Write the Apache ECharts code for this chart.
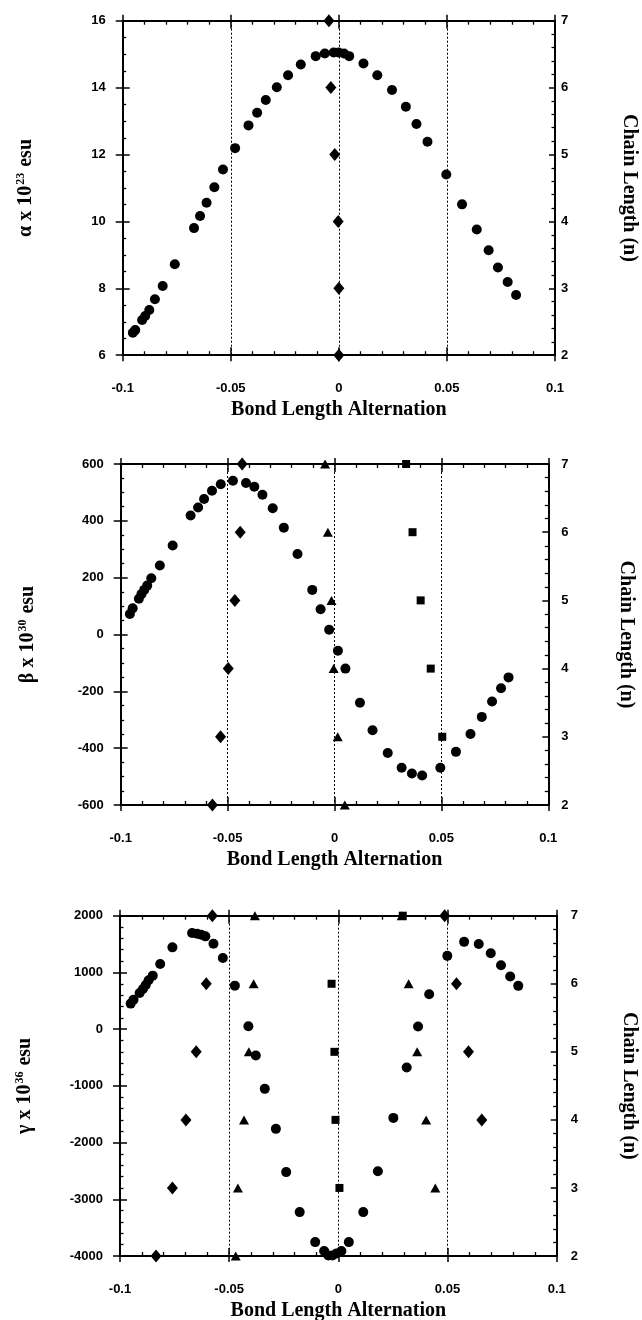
<!DOCTYPE html>
<html>
<head>
<meta charset="utf-8">
<script src="https://cdn.jsdelivr.net/npm/echarts@6/dist/echarts.min.js"></script>
<style>
  html, body { margin: 0; padding: 0; background: #fff; }
  #chart { width: 642px; height: 1320px; }
</style>
</head>
<body>
<div id="chart"></div>
<script>
// tick labels
const xTickValues = [-0.1, -0.05, 0, 0.05, 0.1];
const xTickLabels = ['-0.1', '-0.05', '0', '0.05', '0.1'];
const alphaTickValues = [6, 8, 10, 12, 14, 16];
const alphaTickLabels = ['6', '8', '10', '12', '14', '16'];
const betaTickValues = [-600, -400, -200, 0, 200, 400, 600];
const betaTickLabels = ['-600', '-400', '-200', '0', '200', '400', '600'];
const gammaTickValues = [-4000, -3000, -2000, -1000, 0, 1000, 2000];
const gammaTickLabels = ['-4000', '-3000', '-2000', '-1000', '0', '1000', '2000'];
const chainTickValues = [2, 3, 4, 5, 6, 7];
const chainTickLabels = ['2', '3', '4', '5', '6', '7'];

// alpha panel
const alphaX = [-0.0953, -0.0942, -0.091, -0.0896, -0.0877, -0.0851, -0.0815, -0.0759, -0.067, -0.0642, -0.0612, -0.0576, -0.0536, -0.048, -0.0418, -0.0378, -0.0338, -0.0287, -0.0235, -0.0176, -0.0107, -0.0065, -0.0024, -0.0001, 0.0024, 0.0048, 0.0114, 0.0178, 0.0246, 0.031, 0.0359, 0.041, 0.0497, 0.057, 0.0638, 0.0693, 0.0736, 0.0781, 0.082];
const alphaY = [6.67, 6.75, 7.05, 7.17, 7.35, 7.67, 8.07, 8.72, 9.8, 10.16, 10.56, 11.02, 11.55, 12.19, 12.87, 13.25, 13.63, 14.01, 14.37, 14.69, 14.94, 15.02, 15.05, 15.05, 15.02, 14.94, 14.72, 14.37, 13.93, 13.43, 12.91, 12.38, 11.4, 10.51, 9.76, 9.14, 8.62, 8.19, 7.8];
const alphaDiamondX = [-0.0046, -0.0037, -0.0019, -0.0003, 0, 0];
const alphaDiamondN = [7, 6, 5, 4, 3, 2];

// beta panel
const betaX = [-0.0957, -0.0944, -0.0915, -0.0903, -0.089, -0.0876, -0.0857, -0.0817, -0.0757, -0.0673, -0.0638, -0.061, -0.0573, -0.0532, -0.0475, -0.0414, -0.0375, -0.0337, -0.0289, -0.0237, -0.0173, -0.0104, -0.0065, -0.0025, 0.0016, 0.0051, 0.0119, 0.0178, 0.0249, 0.0314, 0.0362, 0.041, 0.0495, 0.0568, 0.0636, 0.0689, 0.0737, 0.0779, 0.0814];
const betaY = [72, 92, 126, 142, 157, 172, 198, 243, 313, 419, 447, 477, 506, 529, 541, 533, 520, 492, 444, 376, 283, 157, 89, 17, -57, -120, -240, -337, -417, -469, -489, -496, -469, -413, -350, -290, -236, -189, -151];
const betaDiamondX = [-0.0432, -0.0441, -0.0466, -0.0497, -0.0533, -0.0571];
const betaDiamondN = [7, 6, 5, 4, 3, 2];
const betaTriangleX = [-0.0044, -0.0031, -0.0014, -0.0004, 0.0015, 0.0048];
const betaTriangleN = [7, 6, 5, 4, 3, 2];
const betaSquareX = [0.0335, 0.0365, 0.0403, 0.045, 0.0504];
const betaSquareN = [7, 6, 5, 4, 3];

// gamma panel
const gammaX = [-0.0951, -0.0938, -0.091, -0.0895, -0.0882, -0.0869, -0.085, -0.0816, -0.076, -0.067, -0.0647, -0.0628, -0.0609, -0.0572, -0.0529, -0.0474, -0.0412, -0.0378, -0.0337, -0.0286, -0.0239, -0.0177, -0.0106, -0.0065, -0.0046, -0.0027, -0.0008, 0.0014, 0.0048, 0.0114, 0.0181, 0.0252, 0.0313, 0.0365, 0.0416, 0.0499, 0.0576, 0.0643, 0.0698, 0.0745, 0.0787, 0.0824];
const gammaY = [450, 520, 638, 708, 779, 861, 943, 1149, 1442, 1695, 1683, 1665, 1636, 1507, 1254, 767, 51, -466, -1053, -1758, -2521, -3226, -3755, -3913, -3990, -3990, -3954, -3913, -3755, -3226, -2505, -1565, -678, 46, 616, 1292, 1539, 1500, 1339, 1127, 927, 763];
const gammaDiamondX = [-0.0577, -0.0605, -0.0651, -0.0698, -0.076, -0.0835, 0.0487, 0.0541, 0.0596, 0.0657];
const gammaDiamondN = [7, 6, 5, 4, 3, 2, 7, 6, 5, 4];
const gammaTriangleX = [-0.0382, -0.0388, -0.041, -0.0432, -0.046, -0.047, 0.029, 0.0322, 0.0361, 0.0402, 0.0444];
const gammaTriangleN = [7, 6, 5, 4, 3, 2, 7, 6, 5, 4, 3];
const gammaSquareX = [0.0295, -0.0031, -0.0018, -0.0013, 0.0005];
const gammaSquareN = [7, 6, 5, 4, 3];

const zip = (xs, ys) => xs.map((x, i) => [x, ys[i]]);

const pick = (values, labels) => (v) => {
  for (let i = 0; i < values.length; i++) {
    if (Math.abs(values[i] - v) < 1e-6 * Math.max(1, Math.abs(values[i]))) return labels[i];
  }
  return '';
};

const tickFont = { color: '#000', fontFamily: 'Liberation Sans', fontWeight: 'bold', fontSize: 13 };
const nameFont = { color: '#000', fontFamily: 'Liberation Serif', fontWeight: 'bold', fontSize: 20 };
const black = { color: '#000', opacity: 1 };

const panels = [
  {
    box: { left: 122.7, top: 20.7, width: 432.3, height: 334.5 },
    yMin: 6, yMax: 16, yStep: 2, yMinor: 4,
    yFormat: pick(alphaTickValues, alphaTickLabels),
    yName: '{t|α x 10}{s|23}{t| esu}',
    rightMargin: 6, leftNameGap: 86, rightNameGap: 64,
    circles: zip(alphaX, alphaY),
    diamonds: zip(alphaDiamondX, alphaDiamondN),
    triangles: [], squares: []
  },
  {
    box: { left: 120.7, top: 464, width: 427.6, height: 341 },
    yMin: -600, yMax: 600, yStep: 200, yMinor: 4,
    yFormat: pick(betaTickValues, betaTickLabels),
    yName: '{t|β x 10}{s|30}{t| esu}',
    rightMargin: 13, leftNameGap: 82, rightNameGap: 68,
    circles: zip(betaX, betaY),
    diamonds: zip(betaDiamondX, betaDiamondN),
    triangles: zip(betaTriangleX, betaTriangleN),
    squares: zip(betaSquareX, betaSquareN)
  },
  {
    box: { left: 120, top: 915.7, width: 436.7, height: 340.3 },
    yMin: -4000, yMax: 2000, yStep: 1000, yMinor: 5,
    yFormat: pick(gammaTickValues, gammaTickLabels),
    yName: '{t|γ x 10}{s|36}{t| esu}',
    rightMargin: 14, leftNameGap: 84, rightNameGap: 62,
    circles: zip(gammaX, gammaY),
    diamonds: zip(gammaDiamondX, gammaDiamondN),
    triangles: zip(gammaTriangleX, gammaTriangleN),
    squares: zip(gammaSquareX, gammaSquareN)
  }
];

const grid = [], xAxis = [], yAxis = [], series = [];

panels.forEach((p, i) => {
  grid.push(Object.assign({ containLabel: false, outerBoundsMode: 'none' }, p.box));
  const xBase = { gridIndex: i, type: 'value', min: -0.1, max: 0.1, interval: 0.05,
    splitLine: { show: false }, axisLabel: { show: false } };
  const noLine = { show: false, onZero: false };
  const line = { show: true, onZero: false, lineStyle: { color: '#000', width: 2 } };
  // bottom: labels, name, dotted verticals, inward ticks
  xAxis.push(Object.assign({}, xBase, {
    position: 'bottom', axisLine: line,
    axisTick: { inside: true, length: 8, lineStyle: { color: '#000', width: 1.5 } },
    minorTick: { show: true, splitNumber: 5, length: 4, lineStyle: { color: '#000', width: 1.3 } },
    axisLabel: Object.assign({ show: true, margin: 27, formatter: pick(xTickValues, xTickLabels) }, tickFont),
    splitLine: { show: true, lineStyle: { color: '#000', width: 1, type: [2, 2] } },
    name: 'Bond Length Alternation', nameLocation: 'middle', nameGap: 45, nameTextStyle: nameFont
  }));
  // bottom outward major ticks
  xAxis.push(Object.assign({}, xBase, {
    position: 'bottom', axisLine: noLine,
    axisTick: { inside: false, length: 6, lineStyle: { color: '#000', width: 1.5 } }
  }));
  // top mirror
  xAxis.push(Object.assign({}, xBase, {
    position: 'top', axisLine: line,
    axisTick: { inside: true, length: 8, lineStyle: { color: '#000', width: 1.5 } },
    minorTick: { show: true, splitNumber: 5, length: 4, lineStyle: { color: '#000', width: 1.3 } }
  }));
  xAxis.push(Object.assign({}, xBase, {
    position: 'top', axisLine: noLine,
    axisTick: { inside: false, length: 6, lineStyle: { color: '#000', width: 1.5 } }
  }));

  const yBase = { gridIndex: i, type: 'value', min: p.yMin, max: p.yMax, interval: p.yStep,
    splitLine: { show: false }, axisLabel: { show: false } };
  // left: labels + outward ticks
  yAxis.push(Object.assign({}, yBase, {
    position: 'left', axisLine: line,
    axisTick: { inside: false, length: 7, lineStyle: { color: '#000', width: 1.5 } },
    axisLabel: Object.assign({ show: true, margin: 17, formatter: p.yFormat }, tickFont),
    name: p.yName, nameLocation: 'middle', nameRotate: 90, nameGap: p.leftNameGap,
    nameTextStyle: {
      rich: {
        t: Object.assign({ lineHeight: 22 }, nameFont),
        s: { color: '#000', fontFamily: 'Liberation Serif', fontWeight: 'bold', fontSize: 12, verticalAlign: 'top', lineHeight: 22, padding: [0, 1, 0, 1] }
      }
    }
  }));
  // left inward ticks
  yAxis.push(Object.assign({}, yBase, {
    position: 'left', axisLine: noLine,
    axisTick: { inside: true, length: 7, lineStyle: { color: '#000', width: 1.5 } },
    minorTick: { show: true, splitNumber: p.yMinor, length: 3.5, lineStyle: { color: '#000', width: 1.3 } }
  }));
  // right: chain length
  yAxis.push({
    gridIndex: i, type: 'value', position: 'right', min: 2, max: 7, interval: 1,
    splitLine: { show: false }, axisLine: line,
    axisTick: { inside: true, length: 6, lineStyle: { color: '#000', width: 1.5 } },
    minorTick: { show: true, splitNumber: 5, length: 3.5, lineStyle: { color: '#000', width: 1.3 } },
    axisLabel: Object.assign({ margin: p.rightMargin, formatter: pick(chainTickValues, chainTickLabels) }, tickFont),
    name: 'Chain Length (n)', nameLocation: 'middle', nameRotate: -90, nameGap: p.rightNameGap,
    nameTextStyle: nameFont
  });

  const sc = (data, yIdx, symbol, size) => ({
    type: 'scatter', xAxisIndex: i * 4, yAxisIndex: i * 3 + yIdx, data: data,
    symbol: symbol, symbolSize: size, itemStyle: black, clip: false, silent: true
  });
  series.push(sc(p.circles, 0, 'circle', 10));
  if (p.diamonds.length) series.push(sc(p.diamonds, 2, 'diamond', [11, 13]));
  if (p.triangles.length) series.push(sc(p.triangles, 2, 'triangle', [10, 9]));
  if (p.squares.length) series.push(sc(p.squares, 2, 'rect', 8));
});

const chart = echarts.init(document.getElementById('chart'), null, { renderer: 'canvas' });
chart.setOption({
  animation: false,
  backgroundColor: '#fff',
  grid: grid,
  xAxis: xAxis,
  yAxis: yAxis,
  series: series
});
</script>
</body>
</html>
